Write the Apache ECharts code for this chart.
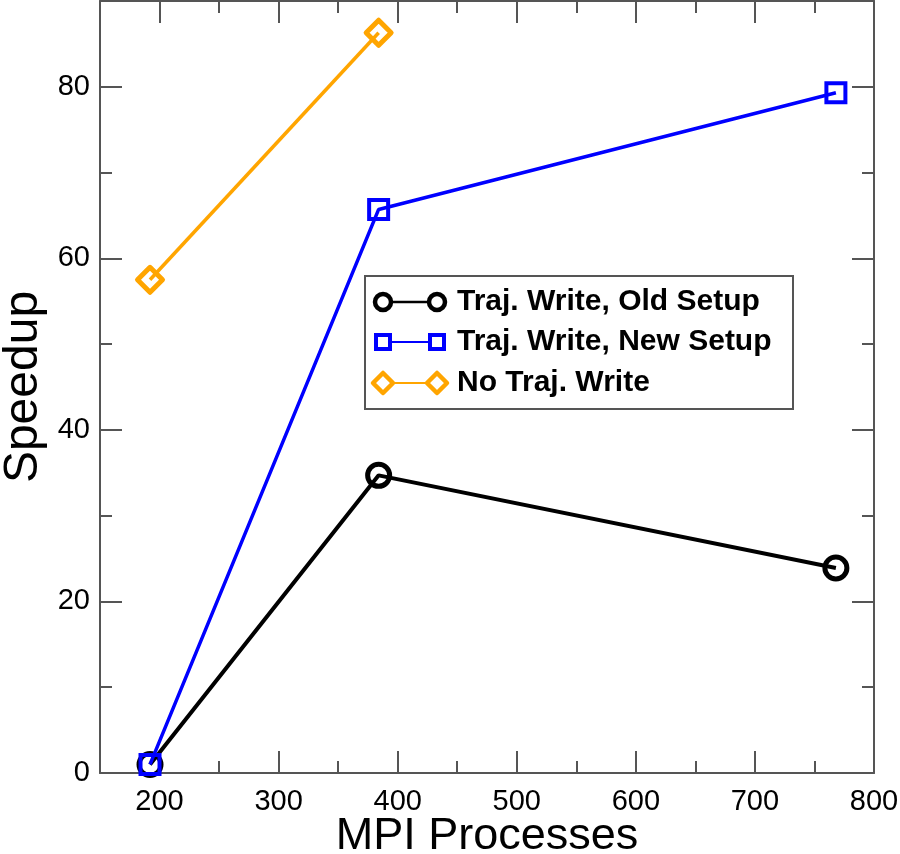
<!DOCTYPE html>
<html>
<head>
<meta charset="utf-8">
<script src="https://cdn.jsdelivr.net/npm/echarts@6/dist/echarts.min.js"></script>
<style>html,body{margin:0;padding:0;background:#fff}#c{width:900px;height:854px}</style>
</head>
<body>
<div id="c"></div>
<script>
const procs = [192, 384, 768];
const procsNoWrite = [192, 384];
const oldSetup = [1.0, 34.7, 23.9];
const newSetup = [1.0, 65.7, 79.3];
const noWrite = [57.5, 86.3];
const seriesNames = ['Traj. Write, Old Setup', 'Traj. Write, New Setup', 'No Traj. Write'];
const xMajorTicks = [200, 300, 400, 500, 600, 700, 800];
const xMinorTicks = [250, 350, 450, 550, 650, 750];
const yMajorTicks = [0, 20, 40, 60, 80];
const yMinorTicks = [10, 30, 50, 70];
const xLabel = 'MPI Processes';
const yLabel = 'Speedup';

const FONT = '"Liberation Sans", Arial, Helvetica, sans-serif';
const AX = '#555';

function pairs(xs, ys) { return xs.map((x, i) => [x, ys[i]]); }

const chart = echarts.init(document.getElementById('c'));

const gridBox = { left: 100, right: 26, top: 1, bottom: 81, containLabel: false, outerBoundsMode: 'none' };
const xRange = { type: 'value', min: 150, max: 800, interval: 50 };
const yRange = { type: 'value', min: 0, max: 90, interval: 10 };

function mkAxis(range, extra, ticks, len, showLine) {
  return Object.assign({}, range, {
    axisLine: { show: showLine, onZero: false, lineStyle: { color: AX, width: 2 } },
    axisTick: { show: true, inside: true, length: len, customValues: ticks, lineStyle: { color: AX, width: 2 } },
    axisLabel: { show: false },
    splitLine: { show: false },
    minorTick: { show: false },
    minorSplitLine: { show: false }
  }, extra);
}

const diamond = 'path://M0,-10 L10,0 L0,10 L-10,0 Z';

chart.setOption({
  animation: false,
  backgroundColor: '#fff',
  grid: [Object.assign({}, gridBox), Object.assign({}, gridBox)],
  xAxis: [
    mkAxis(xRange, {
      gridIndex: 0, position: 'bottom',
      axisLabel: { show: true, customValues: xMajorTicks, fontFamily: FONT, fontSize: 29, color: '#000', margin: 14 }
    }, xMajorTicks, 22, true),
    mkAxis(xRange, { gridIndex: 0, position: 'top' }, xMajorTicks, 22, true),
    mkAxis(xRange, {
      gridIndex: 1, position: 'bottom',
      name: xLabel, nameLocation: 'middle', nameGap: 41,
      nameTextStyle: { fontFamily: FONT, fontSize: 45, color: '#000' }
    }, xMinorTicks, 12, false),
    mkAxis(xRange, { gridIndex: 1, position: 'top' }, xMinorTicks, 12, false)
  ],
  yAxis: [
    mkAxis(yRange, {
      gridIndex: 0, position: 'left',
      axisLabel: { show: true, customValues: yMajorTicks, fontFamily: FONT, fontSize: 29, color: '#000', margin: 10 }
    }, yMajorTicks, 22, true),
    mkAxis(yRange, { gridIndex: 0, position: 'right' }, yMajorTicks, 22, true),
    mkAxis(yRange, {
      gridIndex: 1, position: 'left',
      name: yLabel, nameLocation: 'middle', nameGap: 52,
      nameTextStyle: { fontFamily: FONT, fontSize: 48, color: '#000' }
    }, yMinorTicks, 12, false),
    mkAxis(yRange, { gridIndex: 1, position: 'right' }, yMinorTicks, 12, false)
  ],
  series: [
    {
      name: seriesNames[0], type: 'line', data: pairs(procs, oldSetup),
      xAxisIndex: 0, yAxisIndex: 0, z: 3,
      symbol: 'circle', symbolSize: 22,
      lineStyle: { color: '#000', width: 4 },
      itemStyle: { color: 'rgba(255,255,255,0)', borderColor: '#000', borderWidth: 5 }
    },
    {
      name: seriesNames[1], type: 'line', data: pairs(procs, newSetup),
      xAxisIndex: 0, yAxisIndex: 0, z: 4,
      symbol: 'rect', symbolSize: 19,
      lineStyle: { color: '#0000ff', width: 3.5 },
      itemStyle: { color: 'rgba(255,255,255,0)', borderColor: '#0000ff', borderWidth: 4 }
    },
    {
      name: seriesNames[2], type: 'line', data: pairs(procsNoWrite, noWrite),
      xAxisIndex: 0, yAxisIndex: 0, z: 2,
      symbol: diamond, symbolSize: 25,
      lineStyle: { color: '#ffa500', width: 3.5 },
      itemStyle: { color: 'rgba(255,255,255,0)', borderColor: '#ffa500', borderWidth: 5, borderJoin: 'round' }
    }
  ],
  graphic: [
    { type: 'rect', shape: { x: 365, y: 276, width: 428, height: 133 },
      style: { fill: '#fff', stroke: '#555', lineWidth: 2 }, z: 10 },
    { type: 'line', shape: { x1: 383, y1: 302, x2: 437, y2: 302 }, style: { stroke: '#000', lineWidth: 2.5 }, z: 11 },
    { type: 'circle', shape: { cx: 383, cy: 302, r: 8 }, style: { fill: '#fff', stroke: '#000', lineWidth: 4.5 }, z: 12 },
    { type: 'circle', shape: { cx: 437, cy: 302, r: 8 }, style: { fill: '#fff', stroke: '#000', lineWidth: 4.5 }, z: 12 },
    { type: 'text', x: 457, y: 302, style: { text: seriesNames[0], font: 'bold 30px ' + FONT, fill: '#000', verticalAlign: 'middle' }, z: 12 },
    { type: 'line', shape: { x1: 383, y1: 342, x2: 437, y2: 342 }, style: { stroke: '#0000ff', lineWidth: 2 }, z: 11 },
    { type: 'rect', shape: { x: 376, y: 335, width: 14, height: 14 }, style: { fill: '#fff', stroke: '#0000ff', lineWidth: 4 }, z: 12 },
    { type: 'rect', shape: { x: 430, y: 335, width: 14, height: 14 }, style: { fill: '#fff', stroke: '#0000ff', lineWidth: 4 }, z: 12 },
    { type: 'text', x: 457, y: 342, style: { text: seriesNames[1], font: 'bold 30px ' + FONT, fill: '#000', verticalAlign: 'middle' }, z: 12 },
    { type: 'line', shape: { x1: 383, y1: 383, x2: 437, y2: 383 }, style: { stroke: '#ffa500', lineWidth: 2 }, z: 11 },
    { type: 'polygon', shape: { points: [[383, 373], [393, 383], [383, 393], [373, 383]] }, style: { fill: '#fff', stroke: '#ffa500', lineWidth: 4.5, lineJoin: 'round' }, z: 12 },
    { type: 'polygon', shape: { points: [[437, 373], [447, 383], [437, 393], [427, 383]] }, style: { fill: '#fff', stroke: '#ffa500', lineWidth: 4.5, lineJoin: 'round' }, z: 12 },
    { type: 'text', x: 457, y: 383, style: { text: seriesNames[2], font: 'bold 30px ' + FONT, fill: '#000', verticalAlign: 'middle' }, z: 12 }
  ]
});
</script>
</body>
</html>
